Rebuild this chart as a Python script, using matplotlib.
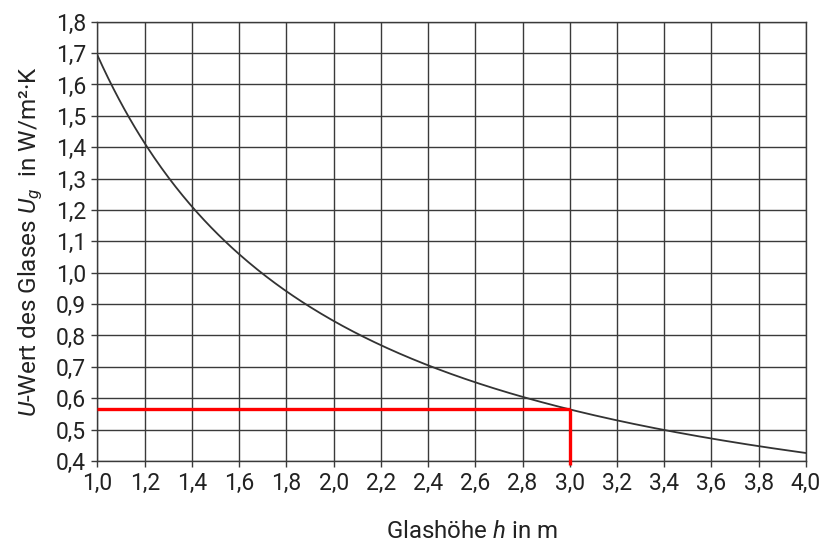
import numpy as np
import matplotlib
matplotlib.use("Agg")
import matplotlib.pyplot as plt

plt.rcParams["font.family"] = ["Roboto", "DejaVu Sans"]
plt.rcParams["mathtext.fontset"] = "custom"
plt.rcParams["mathtext.it"] = "Roboto:italic"
plt.rcParams["mathtext.rm"] = "Roboto"

# Glass height h (m) and U-value of glass (W/m²K)
h = [1.0, 1.1, 1.2, 1.3, 1.4, 1.5, 1.6, 1.8, 2.0, 2.2, 2.4, 2.6, 2.8, 3.0,
     3.2, 3.4, 3.6, 3.8, 4.0]
ug = [1.70, 1.54, 1.405, 1.305, 1.205, 1.125, 1.065, 0.945, 0.849, 0.773,
      0.702, 0.651, 0.604, 0.563, 0.528, 0.498, 0.471, 0.449, 0.426]

h_sel = 3.0
ug_sel = 0.567

xticks = np.round(np.arange(1.0, 4.01, 0.2), 1)
yticks = np.round(np.arange(0.4, 1.81, 0.1), 1)

fig = plt.figure(figsize=(8.24, 5.46), dpi=100)
ax = fig.add_axes([0.1183, 0.1557, 0.8597, 0.8045])

# smooth curve through read points
hs = np.linspace(h[0], h[-1], 400)
coef = np.polyfit(np.log(h), np.log(ug), 3)
ax.plot(hs, np.exp(np.polyval(coef, np.log(hs))), color="#333333", lw=1.3, zorder=3)

ax.plot([h[0], h_sel], [ug_sel, ug_sel], color="#ff0000", lw=2.4,
        solid_capstyle="butt", zorder=4)
ax.plot([h_sel, h_sel], [ug_sel, 0.387], color="#ff0000", lw=2.4,
        solid_capstyle="butt", clip_on=False, zorder=4)

ax.set_xlim(1.0, 4.0)
ax.set_ylim(0.4, 1.8)
ax.set_xticks(xticks)
ax.set_yticks(yticks)
ax.set_xticklabels([f"{v:.1f}".replace(".", ",") for v in xticks])
ax.set_yticklabels([f"{v:.1f}".replace(".", ",") for v in yticks])
ax.grid(True, color="#3a3a3a", lw=1.0)
ax.set_axisbelow(True)
for s in ax.spines.values():
    s.set_color("#3a3a3a")
    s.set_linewidth(1.0)
ax.tick_params(direction="out", length=4, width=1, color="#3a3a3a",
               labelsize=16.5, labelcolor="#222222", pad=4)

ax.set_xlabel("Glashöhe $h$ in m", fontsize=17.3, color="#222222")
ax.xaxis.set_label_coords(0.5286, -0.135)
ax.set_ylabel("$U$-Wert des Glases $U_g$  in W/m²·K", fontsize=17.5,
              color="#222222", labelpad=8)

fig.savefig("out.png", dpi=100)
